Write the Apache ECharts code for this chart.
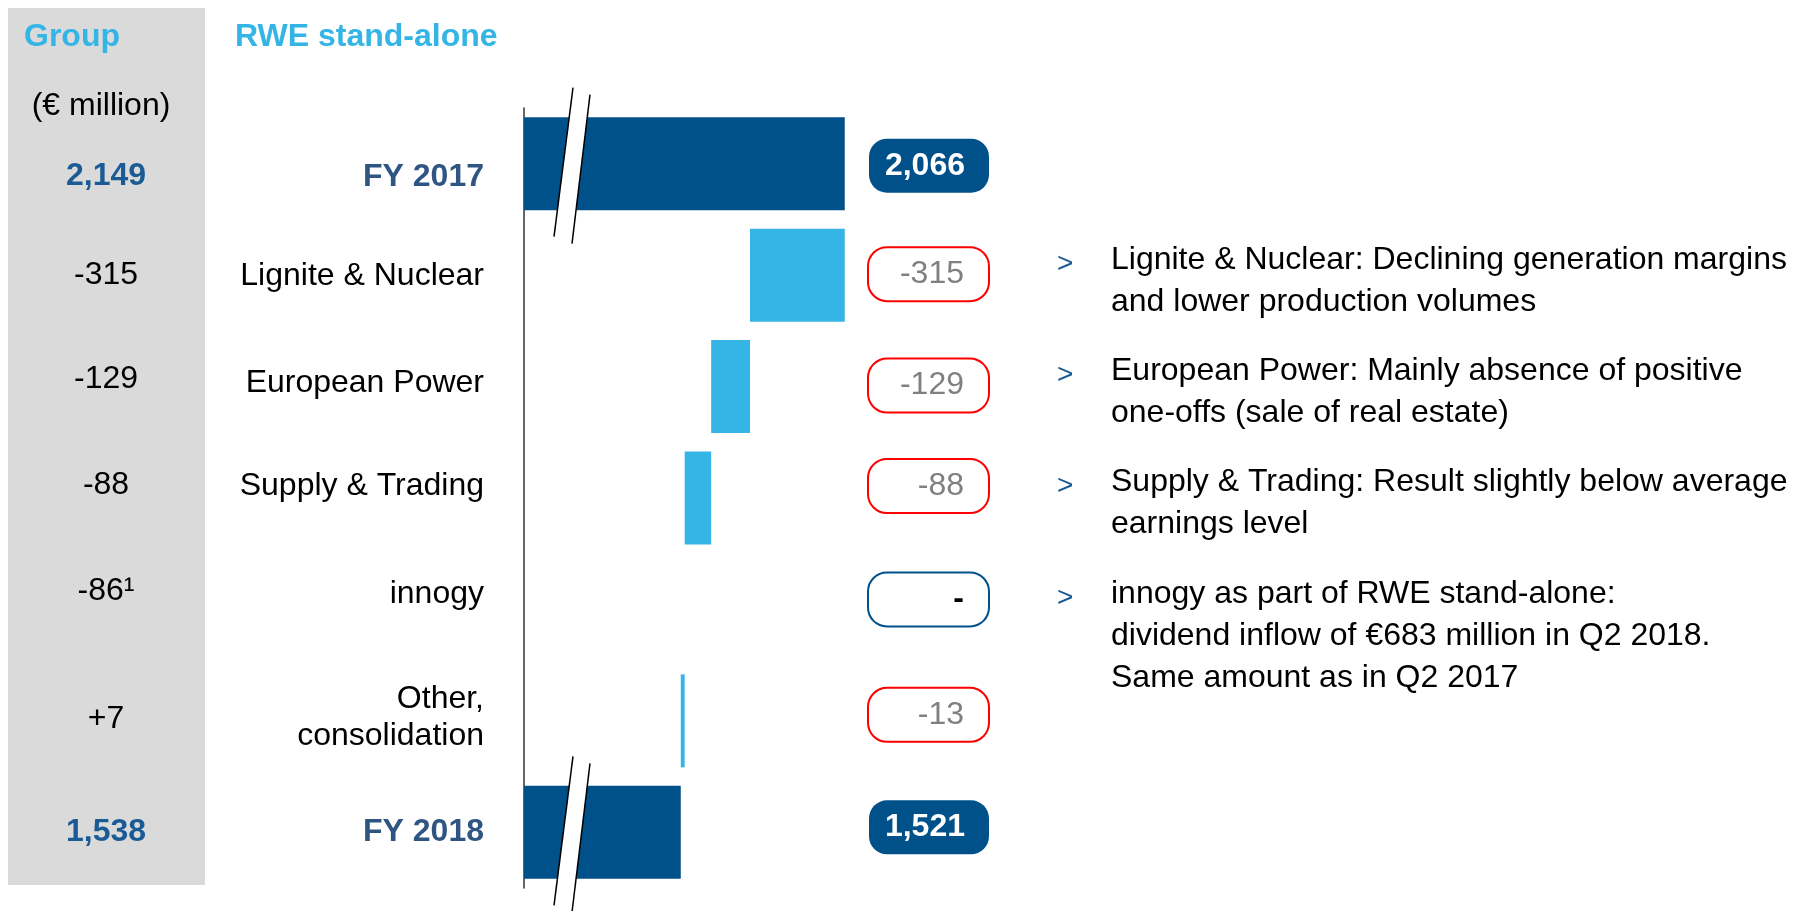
<!DOCTYPE html>
<html>
<head>
<meta charset="utf-8">
<script src="https://cdn.jsdelivr.net/npm/echarts@6/dist/echarts.min.js"></script>
<style>
html, body { margin: 0; padding: 0; background: #fff; }
#main { width: 1806px; height: 911px; }
</style>
</head>
<body>
<div id="main"></div>
<script>
// rows of the bridge, top to bottom
var categories = ['FY 2017', 'Lignite & Nuclear', 'European Power', 'Supply & Trading', 'innogy', 'Other,\nconsolidation', 'FY 2018'];
var isTotal = [true, false, false, false, false, false, true];
// RWE stand-alone, € million (null = no change shown)
var rweValues = [2066, -315, -129, -88, null, -13, 1521];
// Group column, as printed
var groupLabels = ['2,149', '-315', '-129', '-88', '-86¹', '+7', '1,538'];
var bulletTexts = [
  'Lignite & Nuclear: Declining generation margins\nand lower production volumes',
  'European Power: Mainly absence of positive\none-offs (sale of real estate)',
  'Supply & Trading: Result slightly below average\nearnings level',
  'innogy as part of RWE stand-alone:\ndividend inflow of €683 million in Q2 2018.\nSame amount as in Q2 2017'
];

// layout tweaks: vertical nudge of labels per row (px, + = down)
var leftShift = [13, 1, -3, -12, -15, -3, 0];
var groupShift = [12, 0, -7, -13, -18, -2, 0];
var boxShift = [2, -1, -1, -12, -10, -6, -5];
var bulletTops = [239, 350, 461, 573];

var darkBlue = '#00508A';
var lightBlue = '#35B5E5';
var font = 'Liberation Sans, Arial, sans-serif';

// waterfall: transparent base + visible piece
var baseData = [], barData = [], running = 0;
rweValues.forEach(function (v, i) {
  if (isTotal[i]) {
    running = v;
    baseData.push(0);
    barData.push({ value: v, itemStyle: { color: darkBlue } });
  } else if (v == null) {
    baseData.push('-');
    barData.push('-');
  } else {
    running += v;
    baseData.push(running);
    barData.push({ value: -v, itemStyle: { color: lightBlue } });
  }
});

function fmt(v) {
  if (v == null) return '-';
  return v.toLocaleString('en-US');
}

// spacer lines to nudge a rich label up or down
var spacers = {};
function nudge(text, d) {
  if (!d) return text;
  var h = Math.abs(d) * 2;
  spacers['s' + h] = { fontSize: 1, lineHeight: h };
  return d > 0 ? '{s' + h + '| }\n' + text : text + '\n{s' + h + '| }';
}
[leftShift, groupShift, boxShift].forEach(function (arr) { arr.forEach(function (d) { nudge('', d); }); });

function withSpacers(rich) {
  for (var k in spacers) rich[k] = spacers[k];
  return rich;
}

var myChart = echarts.init(document.getElementById('main'));

myChart.setOption({
  animation: false,
  backgroundColor: '#fff',
  grid: { left: 524, width: 334, top: 108, height: 780, containLabel: false },
  xAxis: {
    type: 'value', min: 1000, max: 2110, show: false
  },
  yAxis: [
    {
      type: 'category', data: categories, inverse: true, position: 'left',
      axisLine: { show: true, lineStyle: { color: '#333', width: 1.5 } },
      axisTick: { show: false },
      axisLabel: {
        margin: 40,
        align: 'right',
        formatter: function (v, i) {
          var st = isTotal[i] ? 'fy' : 'cat';
          var t = v.split('\n').map(function (s) { return '{' + st + '|' + s + '}'; }).join('\n');
          return nudge(t, leftShift[i]);
        },
        rich: withSpacers({
          fy: { fontFamily: font, fontSize: 32, fontWeight: 'bold', color: '#2F5583', lineHeight: 37 },
          cat: { fontFamily: font, fontSize: 32, color: '#000', lineHeight: 37 }
        })
      }
    },
    {
      // boxed RWE values on the right
      type: 'category', data: categories, inverse: true, position: 'right',
      axisLine: { show: false }, axisTick: { show: false },
      axisLabel: {
        margin: 11,
        align: 'left',
        formatter: function (v, i) {
          var val = rweValues[i];
          var st = isTotal[i] ? 'tot' : (val == null ? 'nil' : 'neg');
          return nudge('{' + st + '|' + fmt(val) + '}', boxShift[i]);
        },
        rich: withSpacers({
          tot: { fontFamily: font, fontSize: 32, fontWeight: 'bold', color: '#fff', backgroundColor: darkBlue,
                 borderRadius: 18, width: 86, height: 54, align: 'right', padding: [0, 24, 0, 10] },
          neg: { fontFamily: font, fontSize: 32, color: '#808080', backgroundColor: '#fff', borderColor: '#FF0000', borderWidth: 2,
                 borderRadius: 18, width: 85, height: 52, align: 'right', padding: [0, 24, 0, 10] },
          nil: { fontFamily: font, fontSize: 32, fontWeight: 'bold', color: '#000', backgroundColor: '#fff', borderColor: darkBlue, borderWidth: 2,
                 borderRadius: 18, width: 85, height: 52, align: 'right', padding: [0, 24, 0, 10] }
        })
      }
    },
    {
      // Group column values
      type: 'category', data: categories, inverse: true, position: 'left', offset: 418,
      axisLine: { show: false }, axisTick: { show: false },
      axisLabel: {
        margin: 0,
        align: 'center',
        formatter: function (v, i) {
          return nudge('{' + (isTotal[i] ? 'gt' : 'g') + '|' + groupLabels[i] + '}', groupShift[i]);
        },
        rich: withSpacers({
          gt: { fontFamily: font, fontSize: 32, fontWeight: 'bold', color: '#1B5B95', lineHeight: 37 },
          g: { fontFamily: font, fontSize: 32, color: '#000', lineHeight: 37 }
        })
      }
    }
  ],
  series: [
    {
      name: 'base', type: 'bar', stack: 'bridge', yAxisIndex: 0,
      barWidth: 93, silent: true,
      itemStyle: { color: 'transparent' },
      data: baseData
    },
    {
      name: 'RWE stand-alone', type: 'bar', stack: 'bridge', yAxisIndex: 0,
      barWidth: 93, clip: true,
      data: barData
    }
  ]
});

// decorations: grey group column, headers, notes, axis breaks
var graphics = [
  { type: 'rect', z: -10, shape: { x: 8, y: 8, width: 197, height: 877 }, style: { fill: '#DADADA' } },
  { type: 'text', z: 10, x: 24, y: 37, style: { text: 'Group', font: 'bold 32px ' + font, fill: lightBlue, verticalAlign: 'middle' } },
  { type: 'text', z: 10, x: 235, y: 37, style: { text: 'RWE stand-alone', font: 'bold 32px ' + font, fill: lightBlue, verticalAlign: 'middle' } },
  { type: 'text', z: 10, x: 101, y: 106, style: { text: '(€ million)', font: '32px ' + font, fill: '#000', align: 'center', verticalAlign: 'middle' } }
];

bulletTexts.forEach(function (t, i) {
  graphics.push({ type: 'text', z: 10, x: 1057, y: bulletTops[i] + 4, style: { text: '>', font: '28px ' + font, fill: '#1B5B95', lineHeight: 42, verticalAlign: 'top' } });
  graphics.push({ type: 'text', z: 10, x: 1111, y: bulletTops[i], style: { text: t, font: '32px ' + font, fill: '#000', lineHeight: 42, verticalAlign: 'top' } });
});

var gx = myChart.convertToPixel({ xAxisIndex: 0 }, 1000);
[0, categories.length - 1].forEach(function (idx) {
  var cy = myChart.convertToPixel({ yAxisIndex: 0 }, categories[idx]);
  graphics.push({ type: 'polygon', z: 50, shape: { points: [[gx + 49, cy - 76], [gx + 66, cy - 69], [gx + 48, cy + 80], [gx + 30, cy + 73]] }, style: { fill: '#fff' } });
  graphics.push({ type: 'line', z: 51, shape: { x1: gx + 49, y1: cy - 76, x2: gx + 30, y2: cy + 73 }, style: { stroke: '#000', lineWidth: 1.5 } });
  graphics.push({ type: 'line', z: 51, shape: { x1: gx + 66, y1: cy - 69, x2: gx + 48, y2: cy + 80 }, style: { stroke: '#000', lineWidth: 1.5 } });
});

myChart.setOption({ graphic: graphics });
</script>
</body>
</html>
